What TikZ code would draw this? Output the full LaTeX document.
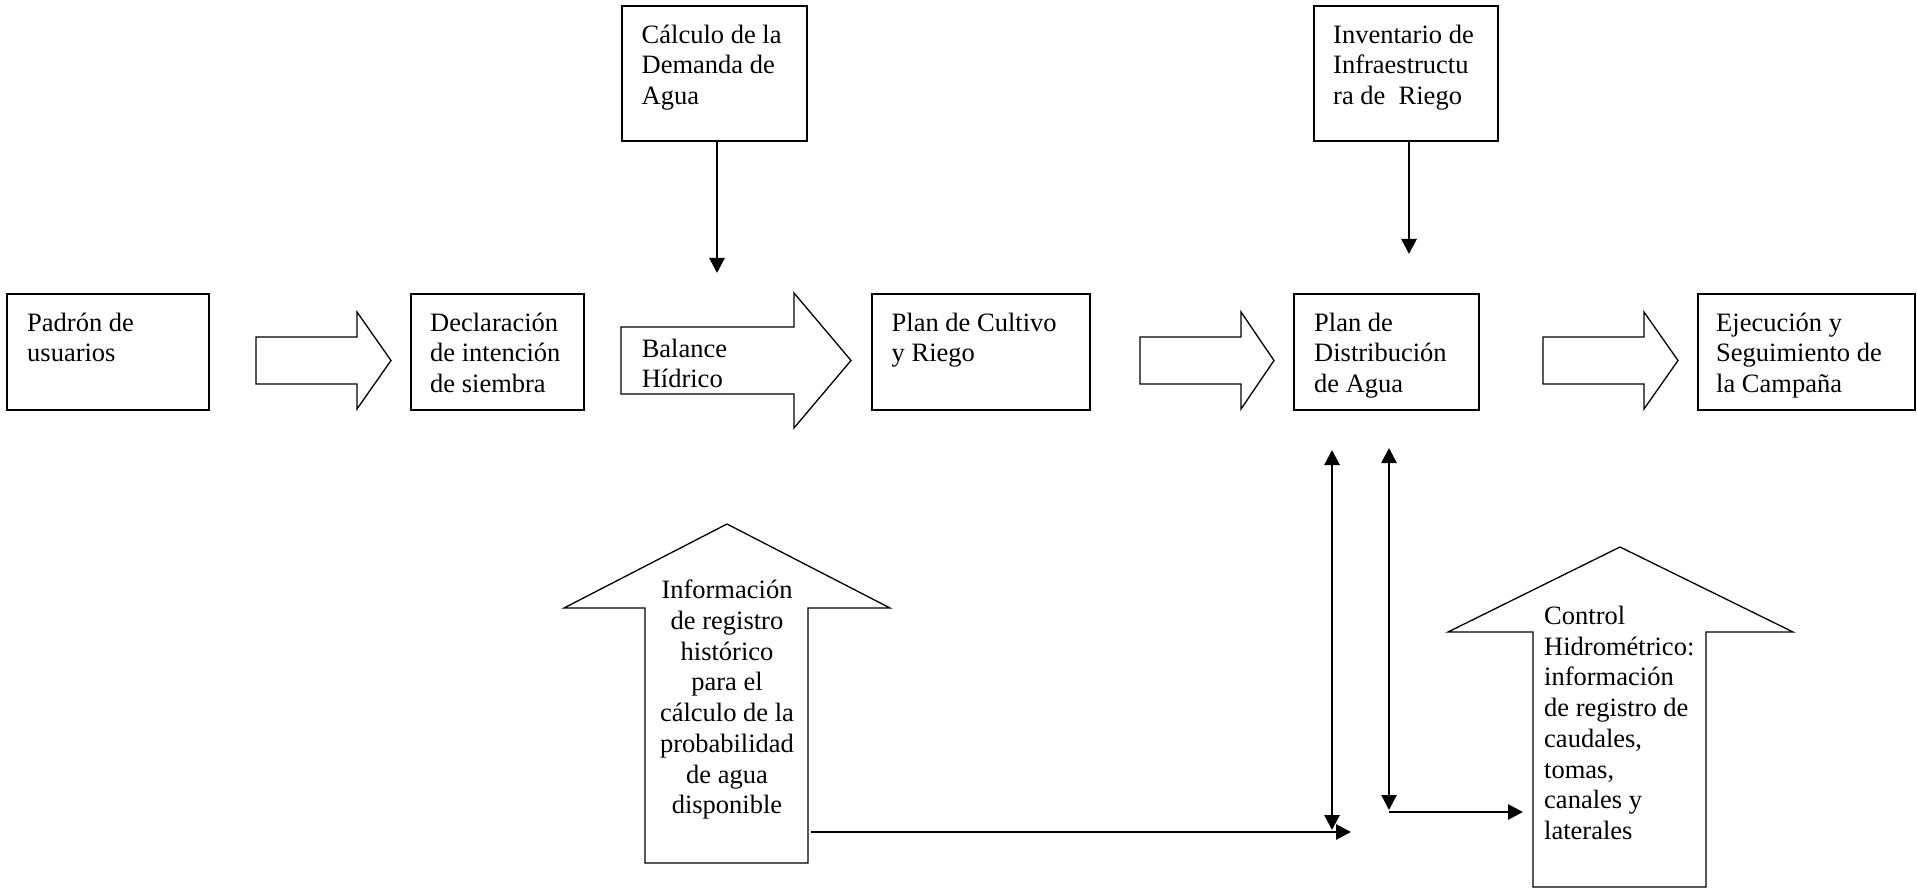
\documentclass[tikz,border=0pt]{standalone}
\usepackage{fontspec}
\setmainfont{Liberation Serif}
\usetikzlibrary{arrows.meta}
\newcommand\dfont{\fontsize{26.5}{30.7}\selectfont}
\tikzset{
  box/.style={draw, line width=1.8pt, inner sep=0pt, anchor=north west},
  txt/.style={font=\dfont, inner sep=0pt, align=left, execute at begin node=\strut},
  ctxt/.style={font=\dfont, inner sep=0pt, align=center, execute at begin node=\strut},
  blockarrow/.style={draw, line width=1.3pt, line join=miter, fill=white},
  conn/.style={line width=2.7pt, -{Triangle[length=15pt,width=15pt]}},
  dconn/.style={line width=2.7pt, {Triangle[length=15pt,width=15pt]}-{Triangle[length=15pt,width=15pt]}}
}
\begin{document}
\begin{tikzpicture}[x=1pt,y=-1pt]
\useasboundingbox (0,0) rectangle (1917,890);
% boxes
\node[box, minimum width=202pt, minimum height=116pt] (padron) at (6,293) {};
\node[box, minimum width=173pt, minimum height=116pt] (decl) at (410,293) {};
\node[box, minimum width=185pt, minimum height=135pt] (calc) at (621,5) {};
\node[box, minimum width=218pt, minimum height=116pt] (cultivo) at (871,293) {};
\node[box, minimum width=185pt, minimum height=116pt] (distrib) at (1293,293) {};
\node[box, minimum width=184pt, minimum height=135pt] (invent) at (1313,5) {};
\node[box, minimum width=217pt, minimum height=116pt] (ejec) at (1697,293) {};
% box texts
\node[txt, anchor=north west] (padronT) at ([xshift=21pt,yshift=-19.5pt]padron.north west) {Padrón de\\usuarios};
\node[txt, anchor=north west] (declT) at ([xshift=20pt,yshift=-19.5pt]decl.north west) {Declaración\\de intención\\de siembra};
\node[txt, anchor=north west] (calcT) at ([xshift=20.5pt,yshift=-19.5pt]calc.north west) {Cálculo de la\\Demanda de\\Agua};
\node[txt, anchor=north west] (cultivoT) at ([xshift=20.5pt,yshift=-19.5pt]cultivo.north west) {Plan de Cultivo\\y Riego};
\node[txt, anchor=north west] (distribT) at ([xshift=21pt,yshift=-19.5pt]distrib.north west) {Plan de\\Distribución\\de Agua};
\node[txt, anchor=north west] (inventT) at ([xshift=20pt,yshift=-19.5pt]invent.north west) {Inventario de\\Infraestructu\\ra de\ \ Riego};
\node[txt, anchor=north west] (ejecT) at ([xshift=19pt,yshift=-19.5pt]ejec.north west) {Ejecución y\\Seguimiento de\\la Campaña};
% right block arrows
\draw[blockarrow] (256,337) -- (357,337) -- (357,312) -- (391,360.5) -- (357,409) -- (357,384) -- (256,384) -- cycle;
\draw[blockarrow] (621,327) -- (794,327) -- (794,293) -- (851,360.5) -- (794,428) -- (794,394) -- (621,394) -- cycle;
\draw[blockarrow] (1140,337) -- (1241,337) -- (1241,312) -- (1274,360.5) -- (1241,409) -- (1241,384) -- (1140,384) -- cycle;
\draw[blockarrow] (1543,337) -- (1644,337) -- (1644,312) -- (1678,360.5) -- (1644,409) -- (1644,384) -- (1543,384) -- cycle;
\node[txt, anchor=north west] (balanceT) at (641.6,338.5) {Balance\\Hídrico};
% up block arrows
\draw[blockarrow] (645,863) -- (645,608) -- (564,608) -- (727,524) -- (890,608) -- (808,608) -- (808,863) -- cycle;
\draw[blockarrow] (1533,887) -- (1533,632) -- (1448,632) -- (1620,547) -- (1793,632) -- (1706,632) -- (1706,887) -- cycle;
\node[ctxt, anchor=north] (infoT) at (727,580) {Información\\de registro\\histórico\\para el\\cálculo de la\\probabilidad\\de agua\\disponible};
\node[txt, anchor=north west] (controlT) at (1544,606) {Control\\Hidrométrico:\\información\\de registro de\\caudales,\\tomas,\\canales y\\laterales};
% connectors
\coordinate (calcEnd) at (717,273);
\coordinate (inventEnd) at (1409,254);
\coordinate (d1top) at (1332,450);
\coordinate (d1bot) at (1332,830);
\coordinate (d2top) at (1389,448);
\coordinate (d2bot) at (1389,810);
\coordinate (infoStart) at (811,832);
\coordinate (infoEnd) at (1351,832);
\coordinate (ctrlStart) at (1389,812);
\coordinate (ctrlEnd) at (1523,812);
\draw[conn] (calc.south -| calcEnd) -- (calcEnd);
\draw[conn] (invent.south -| inventEnd) -- (inventEnd);
\draw[dconn] (d1top) -- (d1bot);
\draw[dconn] (d2top) -- (d2bot);
\draw[conn] (infoStart) -- (infoEnd);
\draw[conn] (ctrlStart) -- (ctrlEnd);
\end{tikzpicture}
\end{document}
